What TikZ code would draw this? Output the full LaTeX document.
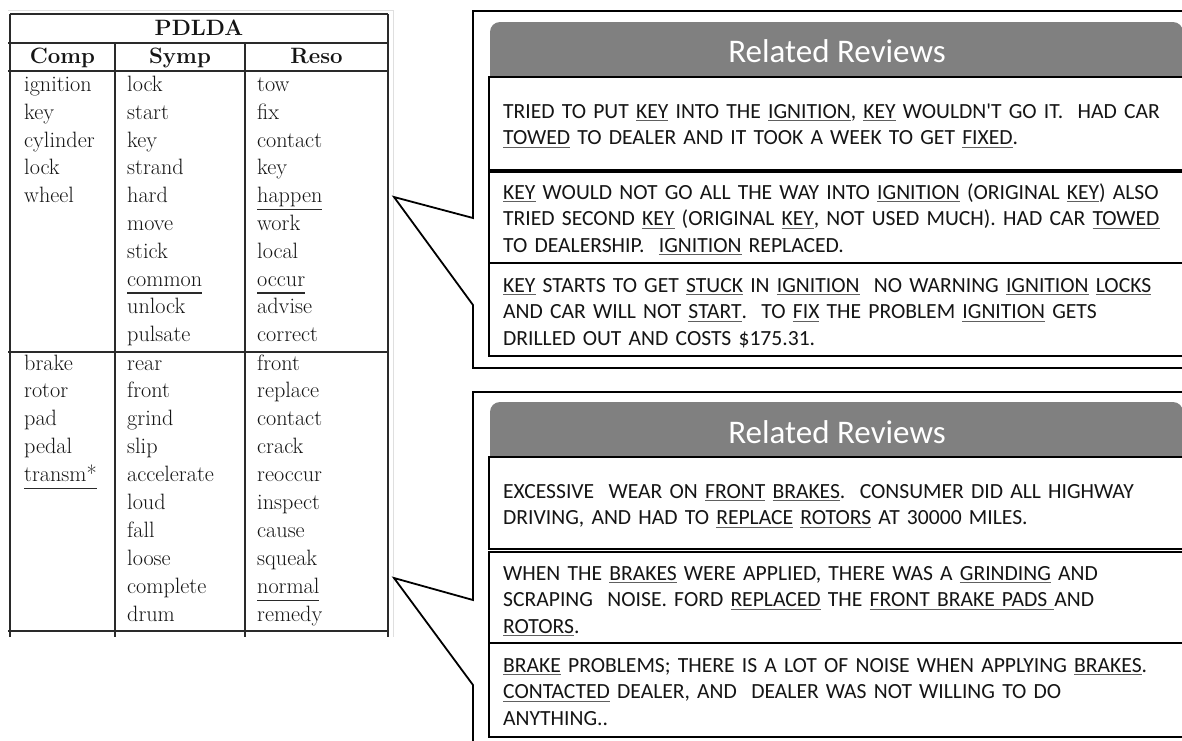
\documentclass[tikz,border=0pt]{standalone}
\usepackage{fontspec}
\newfontfamily\calib{Carlito}
\definecolor{hdrgray}{HTML}{808080}
\definecolor{tabline}{HTML}{2A2A2A}
\definecolor{ulgray}{HTML}{606060}
\definecolor{inkc}{HTML}{151515}
\newsavebox\ulbox
% underlined word in the review texts
\newcommand\rul[1]{\leavevmode\sbox\ulbox{#1}\rlap{\textcolor{ulgray}{\rule[-2.8pt]{\wd\ulbox}{1.1pt}}}\usebox\ulbox}
% underlined word in the topic table
\newcommand\tul[1]{\leavevmode\sbox\ulbox{#1}\rlap{\textcolor{tabline}{\rule[-7.4pt]{\wd\ulbox}{1.3pt}}}\usebox\ulbox}
\frenchspacing
\begin{document}
\begin{tikzpicture}[x=1pt,y=-1pt,
  tabrule/.style={draw=tabline,line width=1.5pt},
  tabtxt/.style={anchor=base west,inner sep=0pt,text=inkc,font=\fontsize{22.2}{26}\selectfont},
  tabhead/.style={anchor=base,inner sep=0pt,text=inkc,font=\fontsize{22.2}{26}\selectfont\bfseries},
  callout/.style={draw=black,line width=1.8pt,line join=miter},
  revbox/.style={draw=black,line width=1.8pt,fill=white},
  hdrbar/.style={fill=hdrgray,rounded corners=10pt},
  hdrtxt/.style={anchor=base,inner sep=0pt,text=white,font=\calib\fontsize{33}{36}\selectfont},
  revtxt/.style={anchor=base west,inner sep=0pt,text=inkc,text width=690pt,align=left,
    font=\calib\fontsize{21.6}{26.8}\selectfont}]
\clip (0,0) rectangle (1182,740);
\fill[white] (0,0) rectangle (1182,740);

% ---------------- topic table ----------------
\draw[gray!25,line width=0.8pt] (8,10) -- (393,10) -- (393,637);
\draw[tabrule] (10,14) -- (388,14);
\draw[tabrule] (8,43) -- (388,43);
\draw[tabrule] (8,71) -- (388,71);
\draw[tabrule] (8,352) -- (388,352);
\draw[tabrule] (8,631) -- (388,631);
\draw[tabrule] (10,14) -- (10,637);
\draw[tabrule] (388,14) -- (388,637);
\draw[tabrule] (115,43) -- (115,637);
\draw[tabrule] (245,43) -- (245,637);

\node[tabhead] (title) at (199,35) {PDLDA};
\node[tabhead] (hcomp) at (62.5,63) {Comp};
\node[tabhead] (hsymp) at (180,63) {Symp};
\node[tabhead] (hreso) at (316.5,63) {Reso};

\foreach \w [count=\i] in {ignition,key,cylinder,lock,wheel}
  \node[tabtxt] (ca\i) at (24,{91.5+(\i-1)*27.8}) {\w};
\foreach \w [count=\i] in {lock,start,key,strand,hard,move,stick,{\tul{common}},unlock,pulsate}
  \node[tabtxt] (sa\i) at (127,{91.5+(\i-1)*27.8}) {\w};
\foreach \w [count=\i] in {tow,fix,contact,key,{\tul{happen}},work,local,{\tul{occur}},advise,correct}
  \node[tabtxt] (ra\i) at (257,{91.5+(\i-1)*27.8}) {\w};

\foreach \w [count=\i] in {brake,rotor,pad,pedal,{\tul{transm*}}}
  \node[tabtxt] (cb\i) at (24,{370+(\i-1)*27.95}) {\w};
\foreach \w [count=\i] in {rear,front,grind,slip,accelerate,loud,fall,loose,complete,drum}
  \node[tabtxt] (sb\i) at (127,{370+(\i-1)*27.95}) {\w};
\foreach \w [count=\i] in {front,replace,contact,crack,reoccur,inspect,cause,squeak,{\tul{normal}},remedy}
  \node[tabtxt] (rb\i) at (257,{370+(\i-1)*27.95}) {\w};

% ---------------- first callout: ignition reviews ----------------
\draw[callout] (1195,11) -- (473,11) -- (473,218) -- (394,197) -- (473,305) -- (473,368) -- (1195,368);
\fill[hdrbar] (490,22) rectangle (1183,90);
\node[hdrtxt] (head1) at (837,62) {Related Reviews};
\draw[revbox] (489,77) rectangle (1195,170);
\draw[revbox] (489,172) rectangle (1195,263);
\draw[revbox] (489,263) rectangle (1195,356);
\node[revtxt] (r1a) at (503,118) {TRIED TO PUT \rul{KEY} INTO THE \rul{IGNITION}, \rul{KEY} WOULDN\textquotesingle T GO IT.\ \ HAD CAR\\
  \rul{TOWED} TO DEALER AND IT TOOK A WEEK TO GET \rul{FIXED}.};
\node[revtxt] (r1b) at (503,199) {\rul{KEY} WOULD NOT GO ALL THE WAY INTO \rul{IGNITION} (ORIGINAL \rul{KEY}) ALSO\\
  TRIED SECOND \rul{KEY} (ORIGINAL \rul{KEY}, NOT USED MUCH). HAD CAR \rul{TOWED}\\
  TO DEALERSHIP.\ \ \rul{IGNITION} REPLACED.};
\node[revtxt] (r1c) at (503,292) {\rul{KEY} STARTS TO GET \rul{STUCK} IN \rul{IGNITION}\ \ NO WARNING \rul{IGNITION} \rul{LOCKS}\\
  AND CAR WILL NOT \rul{START}.\ \ TO \rul{FIX} THE PROBLEM \rul{IGNITION} GETS\\
  DRILLED OUT AND COSTS \$175.31.};

% ---------------- second callout: brake reviews ----------------
\draw[callout] (1195,392) -- (473,392) -- (473,600) -- (394,578) -- (473,685) -- (473,750);
\fill[hdrbar] (490,402) rectangle (1183,470);
\node[hdrtxt] (head2) at (837,443) {Related Reviews};
\draw[revbox] (489,457) rectangle (1195,549);
\draw[revbox] (489,552) rectangle (1195,643);
\draw[revbox] (489,643) rectangle (1195,737);
\node[revtxt] (r2a) at (503,498) {EXCESSIVE\ \ WEAR ON \rul{FRONT} \rul{BRAKES}.\ \ CONSUMER DID ALL HIGHWAY\\
  DRIVING, AND HAD TO \rul{REPLACE} \rul{ROTORS} AT 30000 MILES.};
\node[revtxt] (r2b) at (503,580) {WHEN THE \rul{BRAKES} WERE APPLIED, THERE WAS A \rul{GRINDING} AND\\
  SCRAPING\ \ NOISE. FORD \rul{REPLACED} THE \rul{FRONT BRAKE PADS\ }AND\\
  \rul{ROTORS}.};
\node[revtxt] (r2c) at (503,672) {\rul{BRAKE} PROBLEMS; THERE IS A LOT OF NOISE WHEN APPLYING \rul{BRAKES}.\\
  \rul{CONTACTED} DEALER, AND\ \ DEALER WAS NOT WILLING TO DO\\
  ANYTHING..};
\end{tikzpicture}
\end{document}
